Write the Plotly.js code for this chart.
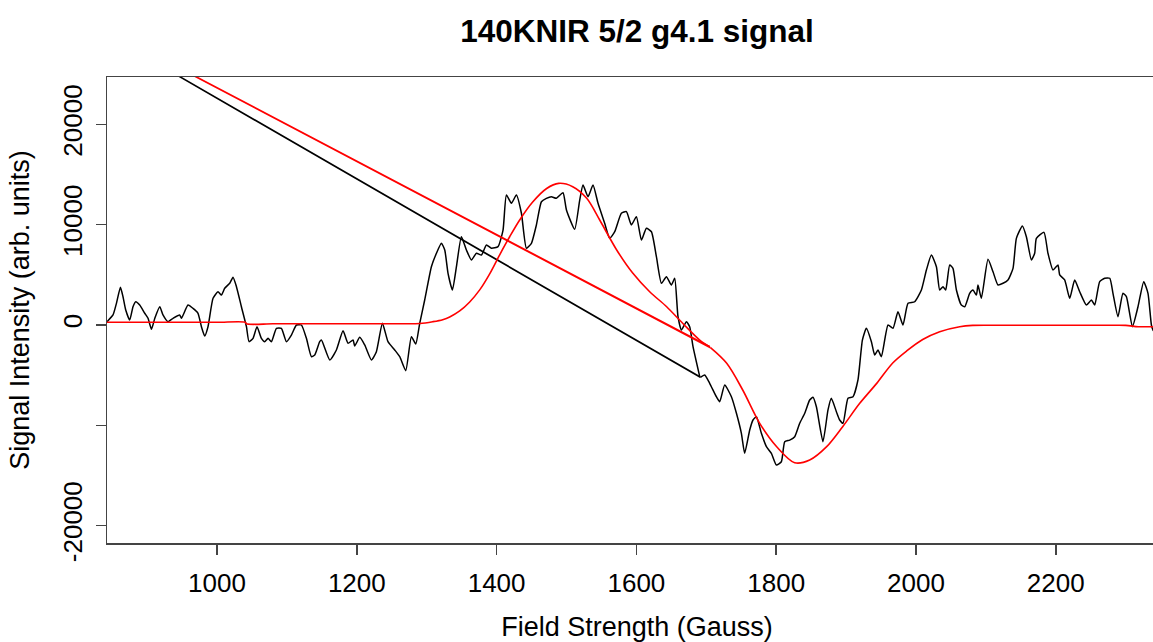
<!DOCTYPE html>
<html>
<head>
<meta charset="utf-8">
<script src="https://cdn.plot.ly/plotly-3.0.1.min.js"></script>
<style>
  html, body { margin: 0; padding: 0; overflow: hidden; background: #fff; }
  #chart { width: 1167px; height: 642px; }
</style>
</head>
<body>
<div id="chart"></div>
<script>
// One stray point (712 G) produces the long straight segment.
const fieldObs = [
  842.6, 851.2, 856.1, 861.8, 865.5, 869.4, 875.1, 879.8, 883.7, 889.4,
  896.6, 901.3, 906.2, 911.0, 918.1, 922.7, 929.9, 937.1, 946.6, 949.1,
  958.5, 965.7, 972.8, 977.7, 982.4, 987.1, 994.3, 1001.4, 1006.3, 1011.0,
  1018.2, 1022.9, 1027.8, 1034.9, 1042.1, 1045.8, 1051.5, 1057.2, 1063.5, 1068.2,
  1073.0, 1077.8, 1085.0, 1092.1, 1099.3, 1106.4, 1113.6, 1120.7, 1127.9, 1135.1,
  1139.8, 1146.9, 1149.4, 1161.3, 1170.8, 1180.3, 1187.4, 1194.6, 1197.0, 1204.2,
  1211.3, 1220.9, 1228.0, 1236.6, 1244.6, 1254.2, 1261.4, 1270.0, 1278.1, 1284.3,
  1290.0, 1297.1, 1306.7, 1313.9, 1321.0, 1325.8, 1330.5, 1336.8, 1342.5, 1349.6,
  1356.8, 1364.0, 1371.1, 1378.3, 1385.4, 1392.6, 1402.0, 1409.2, 1414.0, 1421.2,
  1428.3, 1435.5, 1442.6, 1449.8, 1456.9, 1464.1, 1471.2, 1478.4, 1485.5, 1495.0,
  1499.9, 1511.7, 1518.9, 1523.6, 1530.8, 1537.9, 1545.1, 1554.6, 1561.8, 1569.0,
  1578.5, 1585.7, 1592.8, 1600.0, 1607.2, 1614.3, 1621.5, 1628.6, 1635.8, 1642.9,
  1650.1, 1654.8, 1659.5, 1664.4, 1671.5, 1676.2, 1681.0, 1690.6, 712.0, 1691.5,
  1697.7,
  1704.8, 1714.4, 1719.2, 1726.3, 1735.9, 1743.1, 1750.2, 1754.9, 1762.1, 1766.8,
  1771.7, 1778.8, 1786.0, 1793.1, 1800.3, 1807.4, 1812.2, 1819.3, 1826.5, 1833.6,
  1840.8, 1847.9, 1852.6, 1857.5, 1866.9, 1874.1, 1878.9, 1886.1, 1890.8, 1895.6,
  1902.7, 1909.9, 1917.0, 1923.3, 1929.0, 1936.2, 1940.9, 1945.6, 1950.5, 1960.0,
  1967.1, 1974.2, 1981.4, 1988.6, 1998.1, 2007.7, 2014.9, 2022.0, 2029.2, 2033.9,
  2038.6, 2042.5, 2048.2, 2052.9, 2057.8, 2064.9, 2069.7, 2076.8, 2081.5, 2086.4,
  2088.7, 2093.5, 2103.0, 2110.2, 2117.3, 2124.5, 2131.6, 2138.8, 2143.6, 2152.2,
  2157.9, 2165.1, 2169.8, 2172.2, 2183.1, 2188.8, 2196.0, 2203.1, 2205.6, 2212.7,
  2219.9, 2227.0, 2234.2, 2243.8, 2250.9, 2255.7, 2262.8, 2270.0, 2277.2, 2281.8,
  2289.0, 2296.1, 2301.0, 2309.6, 2317.6, 2325.8, 2331.9, 2336.8, 2339.1, 2345.0
];
const signalObs = [
  330, 1000, 2160, 3760, 2820, 1500, 500, 1820, 2320, 1990,
  1170, 670, -430, 670, 1820, 1000, 330, 670, 1000, 670,
  1990, 1660, 1170, -170, -1100, -170, 2660, 3320, 2990, 3660,
  4160, 4760, 3820, 1820, -170, -1660, -1330, -170, -1330, -1660,
  -1330, -1660, -330, -330, -1660, -1000, 0, 0, -1330, -3160,
  -2990, -1660, -1500, -3490, -2490, -570, -1820, -1500, -2090, -1230,
  -1990, -3490, -2660, 170, -1660, -2490, -3160, -4560, -1170, -1890,
  170, 2490, 5810, 7150, 8150, 7480, 5150, 3490, 5810, 8800,
  7480, 6480, 7150, 6980, 7980, 7650, 7810, 9470, 12960, 12130,
  12960, 11140, 7650, 8150, 9970, 12290, 12630, 12790, 12630, 13190,
  11470, 9540, 12460, 13960, 12790, 13960, 12130, 10140, 8640, 9300,
  11140, 11300, 9970, 10800, 8470, 9640, 9300, 6810, 4160, 4820,
  3990, 4660, 830, -500, 330, -170, -2160, -5150, 34200, -5230,
  -4990,
  -5810, -7150, -7650, -5980, -7150, -8800, -10800, -12790, -10470, -9470,
  -9140, -10800, -12130, -12790, -13960, -13630, -11630, -11470, -11140, -9800,
  -8800, -7480, -7210, -8150, -11630, -8470, -7310, -8640, -9470, -9800,
  -7310, -7150, -5480, -1500, -330, -1660, -2990, -2490, -3160, 0,
  -330, 1330, 0, 2160, 2320, 3490, 5480, 6980, 5810, 3490,
  3820, 3490, 5980, 5650, 3490, 1990, 1820, 3160, 3490, 2990,
  3990, 2660, 6550, 5310, 3990, 4160, 4490, 5650, 8640, 9870,
  8800, 6480, 7150, 8640, 9240, 7150, 5480, 5980, 4990, 4490,
  2660, 4490, 3320, 1990, 2490, 1990, 4320, 4660, 4660, 3160,
  830, 3160, 2820, -170, 1820, 4320, 3160, 0, -500, -1000
];

// Fitted derivative line shape (red).
const fieldFit = [
  842.6, 900.0, 950.0, 1000.0, 1040.6, 1042.0, 1080.0, 1120.0, 1160.0, 1200.0,
  1240.0, 1270.0, 1290.0, 1308.6, 1322.9, 1332.9, 1347.2, 1361.5, 1375.8, 1390.1,
  1404.4, 1418.7, 1433.0, 1451.6, 1471.6, 1488.8, 1508.9, 1528.9, 1547.5, 1571.8,
  1594.7, 1619.0, 1643.3, 1666.2, 1690.6, 1704.9, 712.0, 1706.0, 1729.2, 1752.1,
  1776.4, 1800.7, 1826.5, 1847.9, 1872.2, 1895.1, 1919.5, 1943.8, 1966.7, 1986.7,
  2009.6, 2033.9, 2062.5, 2081.1, 2120.0, 2160.0, 2200.0, 2240.0, 2280.0, 2300.0,
  2318.0, 2330.0, 2345.0
];
const signalFit = [
  270, 270, 270, 270, 270, 120, 120, 120, 120, 120,
  120, 120, 150, 330, 530, 800, 1400, 2300, 3500, 5100,
  7000, 8800, 10470, 12260, 13610, 14120, 13790, 12630, 10470, 7480,
  5180, 3320, 1820, 170, -1500, -2160, 34200, -2260, -3820, -6480,
  -9800, -12130, -13730, -13460, -12130, -10140, -7810, -5820, -3790, -2590,
  -1450, -670, -170, -40, -30, -30, -30, -30, -30, -40,
  -170, -170, -170
];

const xTicks = [1000, 1200, 1400, 1600, 1800, 2000, 2200];
const yTicks = [-20000, -10000, 0, 10000, 20000];
const yTickText = ['-20000', '', '0', '10000', '20000'];

const FONT = 'Liberation Sans, Arial, Helvetica, sans-serif';

// Split each series around its stray point: smooth pieces + the straight jump to the stray point.
function pieces(xs, ys, color, width, smooth) {
  const k = ys.indexOf(Math.max(...ys));
  const common = { type: 'scatter', mode: 'lines', showlegend: false, hoverinfo: 'skip' };
  return [
    Object.assign({}, common, { x: xs.slice(0, k), y: ys.slice(0, k),
      line: { color: color, width: width, shape: 'spline', smoothing: smooth } }),
    Object.assign({}, common, { x: xs.slice(k - 1, k + 2), y: ys.slice(k - 1, k + 2),
      line: { color: color, width: width } }),
    Object.assign({}, common, { x: xs.slice(k + 1), y: ys.slice(k + 1),
      line: { color: color, width: width, shape: 'spline', smoothing: smooth } })
  ];
}

const traces = [].concat(
  pieces(fieldObs, signalObs, '#000000', 1.5, 0.5),
  pieces(fieldFit, signalFit, '#ff0000', 1.6, 0.9)
);

const layout = {
  width: 1167, height: 642,
  margin: { l: 107, r: 0, t: 77, b: 99, pad: 0 },
  paper_bgcolor: '#ffffff', plot_bgcolor: '#ffffff',
  font: { family: FONT, color: '#000000' },
  title: {
    text: '<b>140KNIR 5/2 g4.1 signal</b>',
    font: { family: FONT, size: 31.5, color: '#000000' },
    x: 637 / 1167, xref: 'container', xanchor: 'center',
    y: 1 - 31 / 642, yref: 'container', yanchor: 'middle'
  },
  xaxis: {
    range: [842.6, 2359.1], autorange: false,
    tickmode: 'array', tickvals: xTicks,
    ticks: 'outside', ticklen: 10, tickwidth: 1.5, tickcolor: '#444444',
    ticklabelstandoff: 6,
    showline: true, linecolor: '#444444', linewidth: 1.5, mirror: true,
    showgrid: false, zeroline: false,
    tickfont: { family: FONT, size: 26, color: '#000000' },
    title: { text: 'Field Strength (Gauss)', font: { family: FONT, size: 27, color: '#000000' }, standoff: 31 }
  },
  yaxis: {
    range: [-21734, 24726], autorange: false,
    tickmode: 'array', tickvals: yTicks, ticktext: yTickText,
    tickangle: -90,
    ticks: 'outside', ticklen: 10, tickwidth: 1.5, tickcolor: '#444444',
    ticklabelstandoff: 3,
    showline: true, linecolor: '#444444', linewidth: 1.5, mirror: true,
    showgrid: false, zeroline: false,
    tickfont: { family: FONT, size: 26, color: '#000000' },
    title: { text: 'Signal Intensity (arb. units)', font: { family: FONT, size: 27, color: '#000000' }, standoff: 20 }
  }
};

Plotly.newPlot('chart', traces, layout, { displayModeBar: false, staticPlot: true });
</script>
</body>
</html>
